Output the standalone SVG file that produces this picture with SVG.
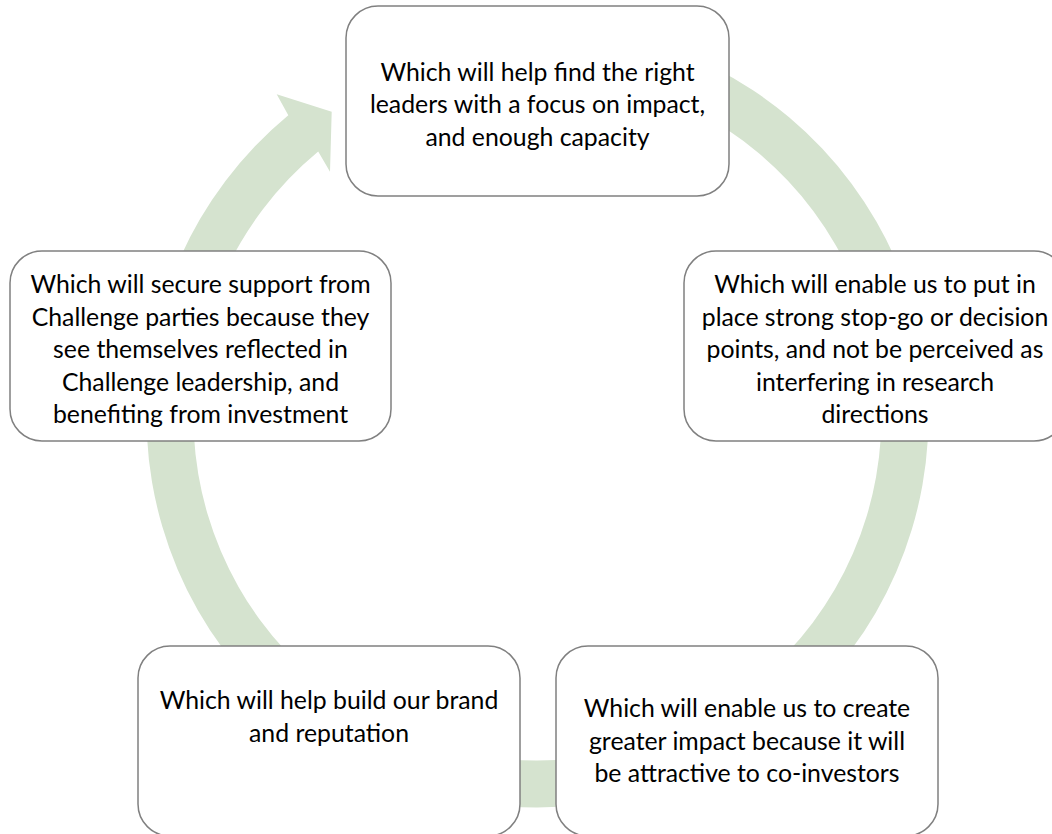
<svg xmlns="http://www.w3.org/2000/svg" width="1052" height="834" viewBox="0 0 1052 834">
  <style>
    .box { fill: #ffffff; stroke: #808080; stroke-width: 1.5; }
    .lbl { font-family: Lato, "Open Sans", "Liberation Sans", sans-serif; font-size: 24.8px; fill: #000000; text-anchor: middle; }
    .ring { fill: #D5E3CF; stroke: none; }
  </style>
  <rect width="1052" height="834" fill="#ffffff"/>
  <g id="connectors">
    <path class="ring" d="M 537.5 25.5 A 391 391 0 1 1 288.3 115.2 L 276.7 94.3 L 331.7 111.7 L 330 171.7 L 318.2 151.4 A 344 344 0 1 0 537.5 72.5 Z"/>
  </g>
  <g id="node-top">
    <rect class="box" x="346" y="6" width="383" height="190" rx="32" ry="32"/>
    <text class="lbl"><tspan x="537.5" y="80.5">Which will help find the right</tspan><tspan x="537.5" y="113">leaders with a focus on impact,</tspan><tspan x="537.5" y="145.5">and enough capacity</tspan></text>
  </g>
  <g id="node-right">
    <rect class="box" x="684" y="251" width="382" height="190" rx="32" ry="32"/>
    <text class="lbl"><tspan x="875" y="293">Which will enable us to put in</tspan><tspan x="875" y="325.6">place strong stop-go or decision</tspan><tspan x="875" y="358.2">points, and not be perceived as</tspan><tspan x="875" y="390.8">interfering in research</tspan><tspan x="875" y="423.4">directions</tspan></text>
  </g>
  <g id="node-bottom-right">
    <rect class="box" x="556" y="646" width="382" height="190" rx="32" ry="32"/>
    <text class="lbl"><tspan x="747" y="717">Which will enable us to create</tspan><tspan x="747" y="749.6">greater impact because it will</tspan><tspan x="747" y="782.2">be attractive to co-investors</tspan></text>
  </g>
  <g id="node-bottom-left">
    <rect class="box" x="138" y="646" width="382" height="190" rx="32" ry="32"/>
    <text class="lbl"><tspan x="329" y="709">Which will help build our brand</tspan><tspan x="329" y="741.6">and reputation</tspan></text>
  </g>
  <g id="node-left">
    <rect class="box" x="10" y="251" width="381" height="190" rx="32" ry="32"/>
    <text class="lbl"><tspan x="200.5" y="293">Which will secure support from</tspan><tspan x="200.5" y="325.6">Challenge parties because they</tspan><tspan x="200.5" y="358.2">see themselves reflected in</tspan><tspan x="200.5" y="390.8">Challenge leadership, and</tspan><tspan x="200.5" y="423.4">benefiting from investment</tspan></text>
  </g>
</svg>
